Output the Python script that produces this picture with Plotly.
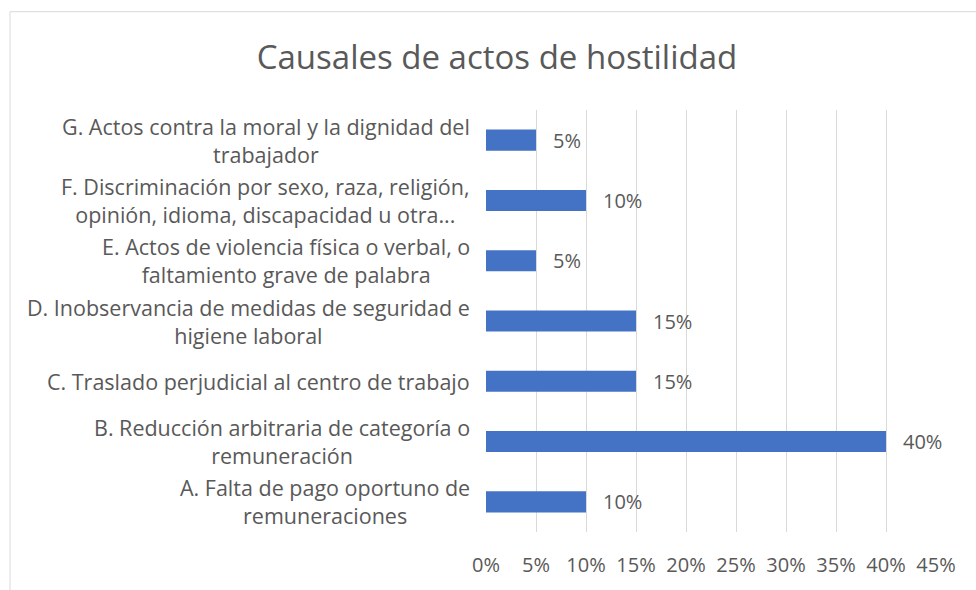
import plotly.graph_objects as go

categories = [
    "A. Falta de pago oportuno de<br>remuneraciones",
    "B. Reducción arbitraria de categoría o<br>remuneración",
    "C. Traslado perjudicial al centro de trabajo",
    "D. Inobservancia de medidas de seguridad e<br>higiene laboral",
    "E. Actos de violencia física o verbal, o<br>faltamiento grave de palabra",
    "F. Discriminación por sexo, raza, religión,<br>opinión, idioma, discapacidad u otra...",
    "G. Actos contra la moral y la dignidad del<br>trabajador",
]
values = [0.10, 0.40, 0.15, 0.15, 0.05, 0.10, 0.05]
tick_vals = [0, 0.05, 0.10, 0.15, 0.20, 0.25, 0.30, 0.35, 0.40, 0.45]
tick_text = ["0%", "5%", "10%", "15%", "20%", "25%", "30%", "35%", "40%", "45%"]
title_text = "Causales de actos de hostilidad"

FONT = "Open Sans"
GRAY = "#595959"

fig = go.Figure()
fig.add_trace(go.Bar(
    x=values, y=list(range(len(categories))), orientation="h",
    marker=dict(color="#4472C4", line=dict(width=0)),
    width=0.35, hoverinfo="skip",
))

annotations = []
for i, (c, v) in enumerate(zip(categories, values)):
    annotations.append(dict(
        x=0, xref="paper", y=i, yref="y", text=c, showarrow=False,
        xanchor="right", yanchor="middle", align="center", xshift=-14,
        font=dict(family=FONT, size=21.5, color=GRAY),
    ))
    annotations.append(dict(
        x=v, xref="x", y=i, yref="y", text=f"{round(v*100)}%", showarrow=False,
        xanchor="left", yanchor="middle", xshift=15,
        font=dict(family=FONT, size=20, color=GRAY),
    ))

fig.update_layout(
    width=976, height=590,
    margin=dict(l=486, r=40, t=110, b=55),
    paper_bgcolor="white", plot_bgcolor="white",
    showlegend=False,
    title=dict(text=title_text, x=497/976, xanchor="center", xref="container",
               y=1 - 57/590, yanchor="middle", yref="container",
               font=dict(family=FONT, size=33, color=GRAY)),
    xaxis=dict(range=[0, 0.45], tickvals=tick_vals, ticktext=tick_text,
               showgrid=True, gridcolor="#d9d9d9", gridwidth=1, zeroline=False,
               showline=False, ticks="", ticklabelstandoff=19,
               tickfont=dict(family=FONT, size=20, color=GRAY), fixedrange=True),
    yaxis=dict(range=[-0.5, len(categories) - 0.5], showticklabels=False,
               showgrid=False, zeroline=False, showline=False, ticks="", fixedrange=True),
    annotations=annotations,
    shapes=[dict(type="rect", xref="paper", yref="paper",
                 x0=(10 - 486) / 450, x1=2, y0=-1, y1=(535 - 11) / 425,
                 line=dict(color="#d9d9d9", width=1), fillcolor="rgba(0,0,0,0)",
                 layer="below")],
)

fig.write_html("out.html", config={"displayModeBar": False})

with open("out.html", encoding="utf-8") as f:
    html = f.read()
html = html.replace("<head>", "<head><style>html,body{margin:0;padding:0;overflow:hidden;}</style>", 1)
with open("out.html", "w", encoding="utf-8") as f:
    f.write(html)
